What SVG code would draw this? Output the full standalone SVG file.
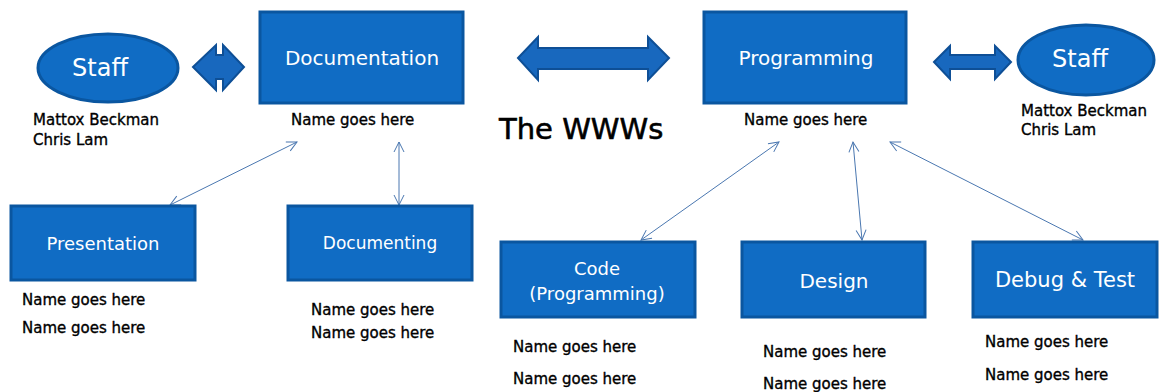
<svg xmlns="http://www.w3.org/2000/svg" width="1162" height="392" viewBox="0 0 1162 392">
<style>
.box{fill:#106CC4;stroke:#0A56A0;stroke-width:3}
.ell{fill:#106CC4;stroke:#0A56A0;stroke-width:3}
.blk{fill:#1868BE;stroke:#0E4F96;stroke-width:2;stroke-linejoin:miter}
.wt{fill:#ffffff;font-family:"DejaVu Sans",sans-serif;text-anchor:middle}
.bt{fill:#000000;stroke:#000000;stroke-width:0.35;font-family:"DejaVu Sans",sans-serif;font-size:15px}
.con{stroke:#4A77B0;stroke-width:1;fill:none;marker-start:url(#ah);marker-end:url(#ah)}
</style>
<defs>
<marker id="ah" viewBox="0 0 12 12" refX="11" refY="6" markerWidth="12" markerHeight="12" markerUnits="userSpaceOnUse" orient="auto-start-reverse">
<path d="M1,1 L11,6 L1,11" fill="none" stroke="#4A77B0" stroke-width="1"/>
</marker>
</defs>
<rect width="1162" height="392" fill="#ffffff"/>

<g id="connectors">
<line class="con" x1="297" y1="142" x2="170" y2="205"/>
<line class="con" x1="399" y1="142" x2="399" y2="205"/>
<line class="con" x1="779" y1="142" x2="641" y2="240"/>
<line class="con" x1="853" y1="142" x2="862" y2="240"/>
<line class="con" x1="890" y1="142" x2="1083" y2="240"/>
<polygon class="blk" points="193,67 216,45 216,55 223,55 223,45 244,67 223,90 223,79 216,79 216,90"/>
<polygon class="blk" points="518,58 538,37 538,48 648,48 648,37 669,58 648,80 648,69 538,69 538,80"/>
<polygon class="blk" points="934,62 950,46 950,55 995,55 995,46 1011,62 995,79 995,69 950,69 950,79"/>
</g>

<g id="staff-left">
<ellipse class="ell" cx="108" cy="68" rx="70" ry="34"/>
<text class="wt" x="100" y="76" font-size="24">Staff</text>
<text class="bt" x="33" y="125">Mattox Beckman</text>
<text class="bt" x="33" y="145">Chris Lam</text>
</g>

<g id="documentation">
<rect class="box" x="260" y="12" width="203" height="91"/>
<text class="wt" x="362" y="65" font-size="20">Documentation</text>
<text class="bt" x="291" y="125">Name goes here</text>
</g>

<g id="title">
<text x="499" y="139" font-family="DejaVu Sans,sans-serif" font-size="29" fill="#000000" stroke="#000000" stroke-width="0.6">The WWWs</text>
</g>

<g id="programming">
<rect class="box" x="704" y="12" width="202" height="91"/>
<text class="wt" x="806" y="65" font-size="20">Programming</text>
<text class="bt" x="744" y="125">Name goes here</text>
</g>

<g id="staff-right">
<ellipse class="ell" cx="1086" cy="60" rx="68" ry="35"/>
<text class="wt" x="1080" y="67" font-size="24">Staff</text>
<text class="bt" x="1021" y="116">Mattox Beckman</text>
<text class="bt" x="1021" y="135">Chris Lam</text>
</g>

<g id="presentation">
<rect class="box" x="11" y="206" width="184" height="74"/>
<text class="wt" x="103" y="250" font-size="18">Presentation</text>
<text class="bt" x="22" y="305">Name goes here</text>
<text class="bt" x="22" y="333">Name goes here</text>
</g>

<g id="documenting">
<rect class="box" x="288" y="206" width="184" height="74"/>
<text class="wt" x="380" y="249" font-size="17">Documenting</text>
<text class="bt" x="311" y="315">Name goes here</text>
<text class="bt" x="311" y="338">Name goes here</text>
</g>

<g id="code">
<rect class="box" x="501" y="242" width="194" height="75"/>
<text class="wt" x="597" y="275" font-size="18">Code</text>
<text class="wt" x="597" y="300" font-size="18">(Programming)</text>
<text class="bt" x="513" y="352">Name goes here</text>
<text class="bt" x="513" y="384">Name goes here</text>
</g>

<g id="design">
<rect class="box" x="742" y="242" width="183" height="75"/>
<text class="wt" x="834" y="288" font-size="20">Design</text>
<text class="bt" x="763" y="357">Name goes here</text>
<text class="bt" x="763" y="389">Name goes here</text>
</g>

<g id="debug-test">
<rect class="box" x="973" y="242" width="184" height="75"/>
<text class="wt" x="1065" y="287" font-size="21">Debug &amp; Test</text>
<text class="bt" x="985" y="347">Name goes here</text>
<text class="bt" x="985" y="380">Name goes here</text>
</g>
</svg>
